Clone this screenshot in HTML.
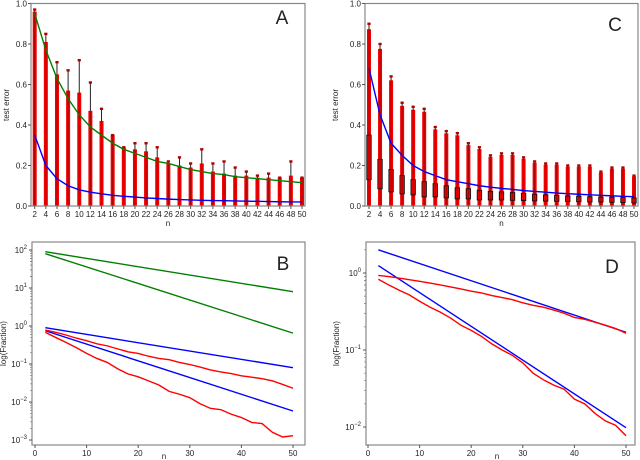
<!DOCTYPE html>
<html><head><meta charset="utf-8"><style>
html,body{margin:0;padding:0;background:#fff;}
svg{display:block;font-family:"Liberation Sans","DejaVu Sans",sans-serif;}
</style></head><body>
<svg id="fig" width="640" height="460" xmlns="http://www.w3.org/2000/svg"></svg>
<script>
const nVals=[2,4,6,8,10,12,14,16,18,20,22,24,26,28,30,32,34,36,38,40,42,44,46,48,50];
const aMax=[0.97,0.85,0.71,0.67,0.72,0.61,0.48,0.35,0.29,0.31,0.31,0.29,0.22,0.24,0.21,0.28,0.21,0.22,0.19,0.17,0.15,0.16,0.14,0.22,0.14];
const aRed=[0.96,0.81,0.65,0.57,0.56,0.47,0.42,0.35,0.29,0.28,0.27,0.24,0.21,0.20,0.19,0.21,0.17,0.16,0.15,0.15,0.14,0.14,0.14,0.15,0.14];
const aGreen=[0.95,0.77,0.63,0.53,0.45,0.39,0.35,0.31,0.28,0.26,0.24,0.22,0.21,0.195,0.18,0.17,0.16,0.155,0.145,0.14,0.135,0.13,0.125,0.12,0.115];
const aBlue=[0.35,0.20,0.135,0.10,0.08,0.068,0.06,0.053,0.048,0.044,0.04,0.037,0.034,0.032,0.03,0.028,0.027,0.026,0.025,0.024,0.023,0.022,0.021,0.02,0.02];
const cMax=[0.90,0.80,0.64,0.51,0.49,0.48,0.39,0.37,0.36,0.31,0.29,0.25,0.26,0.26,0.24,0.22,0.21,0.21,0.20,0.20,0.20,0.17,0.19,0.19,0.15];
const cQ1=[0.13,0.085,0.07,0.06,0.055,0.045,0.045,0.04,0.035,0.035,0.03,0.03,0.03,0.028,0.027,0.025,0.024,0.023,0.022,0.021,0.02,0.02,0.018,0.017,0.015];
const cQ3=[0.35,0.23,0.18,0.15,0.13,0.12,0.11,0.10,0.09,0.085,0.078,0.072,0.07,0.066,0.062,0.058,0.055,0.052,0.05,0.048,0.046,0.044,0.043,0.042,0.04];
const cBlue=[0.68,0.45,0.31,0.25,0.20,0.17,0.15,0.13,0.12,0.11,0.10,0.093,0.087,0.082,0.076,0.072,0.068,0.064,0.061,0.058,0.055,0.053,0.05,0.048,0.046];
const bGreen1=[90,8], bGreen2=[80,0.65], bBlue1=[0.9,0.08], bBlue2=[0.75,0.0058];
const bRed1=[0.78,0.68,0.58,0.48,0.41,0.34,0.30,0.25,0.21,0.19,0.16,0.14,0.13,0.11,0.097,0.083,0.07,0.062,0.056,0.049,0.045,0.041,0.036,0.029,0.023];
const bRed2=[0.68,0.50,0.37,0.27,0.19,0.14,0.11,0.075,0.055,0.046,0.036,0.028,0.019,0.016,0.013,0.009,0.0068,0.0063,0.0048,0.0039,0.0029,0.0027,0.0016,0.0012,0.0013];
const dBlue1=[2.0,0.17], dBlue2=[1.25,0.0098];
const dRed1=[0.93,0.90,0.86,0.82,0.78,0.74,0.70,0.66,0.62,0.58,0.55,0.51,0.48,0.45,0.41,0.38,0.36,0.33,0.30,0.265,0.25,0.23,0.21,0.19,0.165];
const dRed2=[0.83,0.70,0.60,0.52,0.43,0.36,0.31,0.26,0.21,0.18,0.15,0.12,0.10,0.085,0.068,0.05,0.041,0.035,0.031,0.023,0.02,0.015,0.012,0.0105,0.0077];
const linTicks=[0,0.2,0.4,0.6,0.8,1.0];
const xTicksLog=[0,10,20,30,40,50];

const svg=document.getElementById('fig');
const NS='http://www.w3.org/2000/svg';
function mk(tag,attrs,parent){const e=document.createElementNS(NS,tag);for(const k in attrs)e.setAttribute(k,attrs[k]);(parent||svg).appendChild(e);return e;}
function txt(x,y,s,size,anchor,parent,rot){const t=mk('text',{x:x,y:y,'font-size':size,'text-anchor':anchor||'middle',fill:'#222'},parent);if(rot)t.setAttribute('transform','rotate(-90 '+x+' '+y+')');t.textContent=s;return t;}

function boxPanel(name,L,R,T,B,x2,x50,maxArr,redArr,q1,q3,curves,letter,lx,ly,labx){
  const g=mk('g',{});
  
  
  const sx=n=>x2+(n-2)*(x50-x2)/48, sy=v=>B-v*(B-T);
  for(let i=0;i<nVals.length;i++){
    const x=sx(nVals[i]);
    const w=mk('line',{x1:x,x2:x,y1:sy(0),y2:sy(maxArr[i]),stroke:'#222','stroke-width':1},g);
    
    
    const r=mk('rect',{x:x-2,y:sy(redArr[i]),width:4,height:sy(0)-sy(redArr[i]),fill:'#f00000'},g);
    
    
    mk('line',{x1:x,x2:x,y1:sy(0),y2:sy(redArr[i]),stroke:'#700','stroke-width':0.8,'stroke-opacity':0.6},g);
    mk('rect',{x:x-1.6,y:sy(maxArr[i])-1.2,width:3.2,height:2.4,fill:'#b00000'},g);
    if(q1){
      const b=mk('rect',{x:x-2.2,y:sy(q3[i]),width:4.4,height:sy(q1[i])-sy(q3[i]),fill:'none',stroke:'#111','stroke-width':0.9},g);
      
      
    }
  }
  curves.forEach(c=>{
    const p=mk('polyline',{points:nVals.map((n,i)=>sx(n)+','+sy(c.data[i])).join(' '),fill:'none',stroke:c.color,'stroke-width':1.4},g);
    
    
  });
  const f=mk('rect',{x:L,y:T,width:R-L,height:B-T,fill:'none',stroke:'#888','stroke-width':1.2},g);
  
  
  linTicks.forEach(v=>{mk('line',{x1:L-3,x2:L,y1:sy(v),y2:sy(v),stroke:'#555'},g);txt(L-4,sy(v)+3,v.toFixed(1),8,'end',g);});
  nVals.forEach(n=>{mk('line',{x1:sx(n),x2:sx(n),y1:B,y2:B+3,stroke:'#555'},g);txt(sx(n),B+11,String(n),8,'middle',g);});
  const yl=txt(labx,105,'test error',8,'middle',g,true);
  
  const xl=txt((L+R)/2,B+20,'n',8,'middle',g);
  
  const lt=txt(lx,ly,letter,19,'middle',g);
  
}
boxPanel('a',31,305,3.5,206,34.7,302,aMax,aRed,null,null,[{data:aGreen,color:'#008000',name:'green-fit-curve'},{data:aBlue,color:'#0000ff',name:'blue-fit-curve'}],'A',282,24,9);
boxPanel('c',365,638,3.5,206,369,634,cMax,cMax.map(v=>v*0.97),cQ1,cQ3,[{data:cBlue,color:'#0000ff',name:'blue-fit-curve'}],'C',615,31,338);

function logPanel(name,L,R,T,B,x0,x50,yRef,yRefVal,pxDec,decades,lines,letter,lx,ly,labx){
  const g=mk('g',{});
  
  
  const sx=n=>x0+n*(x50-x0)/50, sy=v=>yRef-(Math.log10(v)-yRefVal)*pxDec;
  lines.forEach(l=>{
    let pts;
    if(l.data.length===2) pts=[[2,l.data[0]],[50,l.data[1]]];
    else pts=nVals.map((n,i)=>[n,l.data[i]]);
    const p=mk('polyline',{points:pts.map(q=>sx(q[0])+','+sy(q[1])).join(' '),fill:'none',stroke:l.color,'stroke-width':1.4},g);
    
    
  });
  const f=mk('rect',{x:L,y:T,width:R-L,height:B-T,fill:'none',stroke:'#888','stroke-width':1.2},g);
  
  
  decades.forEach(d=>{
    const y=sy(Math.pow(10,d));
    mk('line',{x1:L-3,x2:L,y1:y,y2:y,stroke:'#555'},g);
    const t=mk('text',{x:L-5,y:y+3,'font-size':8,'text-anchor':'end',fill:'#222'},g);
    t.textContent='10';
    const s=mk('tspan',{dy:-4,'font-size':6},t);s.textContent=String(d).replace('-','\u2212');
    for(let k=2;k<10;k++){const yy=sy(k*Math.pow(10,d));if(yy>T&&yy<B)mk('line',{x1:L-2,x2:L,y1:yy,y2:yy,stroke:'#777','stroke-width':0.6},g);}
  });
  for(let k=2;k<10;k++){const yy=sy(k*Math.pow(10,decades[0]-1));if(yy>T&&yy<B)mk('line',{x1:L-2,x2:L,y1:yy,y2:yy,stroke:'#777','stroke-width':0.6},g);}
  xTicksLog.forEach(n=>{mk('line',{x1:sx(n),x2:sx(n),y1:B,y2:B+3,stroke:'#555'},g);txt(sx(n),B+11,String(n),8,'middle',g);});
  const yl=txt(labx,(T+B)/2,'log(Fraction)',8,'middle',g,true);
  
  const xl=txt((x0+x50)/2,B+14,'n',8,'middle',g);
  
  const lt=txt(lx,ly,letter,19,'middle',g);
  
}
logPanel('b',32,305,242,445,35,293,250,2,38,[2,1,0,-1,-2,-3],[
 {data:bGreen1,color:'#008000',name:'green-line-1'},{data:bGreen2,color:'#008000',name:'green-line-2'},
 {data:bBlue1,color:'#0000ff',name:'blue-line-1'},{data:bBlue2,color:'#0000ff',name:'blue-line-2'},
 {data:bRed1,color:'#ff0000',name:'red-line-1'},{data:bRed2,color:'#ff0000',name:'red-line-2'}],'B',283,270,6);
logPanel('d',366,635,242,445,368,626,273,0,77,[0,-1,-2],[
 {data:dBlue1,color:'#0000ff',name:'blue-line-1'},{data:dBlue2,color:'#0000ff',name:'blue-line-2'},
 {data:dRed1,color:'#ff0000',name:'red-line-1'},{data:dRed2,color:'#ff0000',name:'red-line-2'}],'D',612,273,339);
</script>
</body></html>
